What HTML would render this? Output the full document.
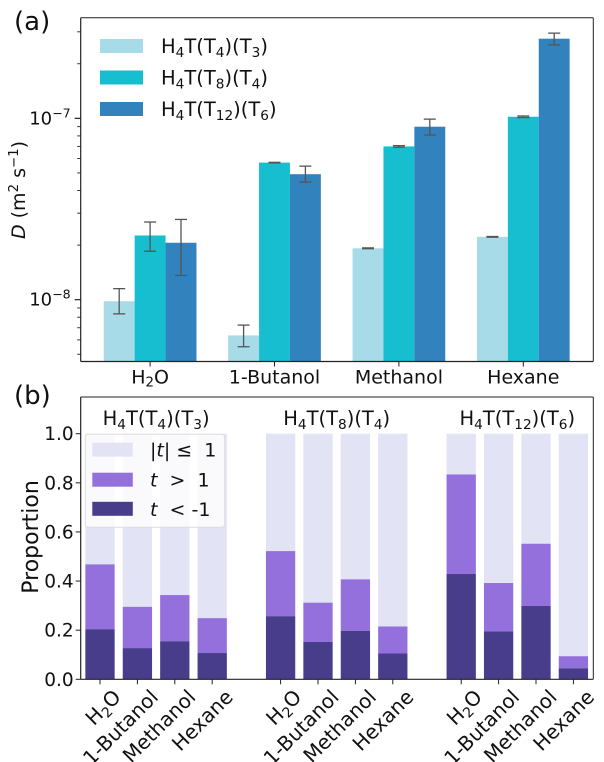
<!DOCTYPE html>
<html><head><meta charset="utf-8"><style>
html,body{margin:0;padding:0;background:#fff;width:604px;height:762px;overflow:hidden}
svg{display:block;font-family:"DejaVu Sans","Liberation Sans",sans-serif}
</style></head><body>
<svg id="fig" width="604" height="762" viewBox="0 0 604 762" overflow="hidden" xmlns="http://www.w3.org/2000/svg"></svg>
<script>
// Panel (a) data
const solvents = ["H2O","1-Butanol","Methanol","Hexane"];
const seriesA = ["T4T3","T8T4","T12T6"];
const dT4T3 = [9.8e-9, 6.35e-9, 1.92e-8, 2.22e-8];
const dT8T4 = [2.26e-8, 5.7e-8, 7.0e-8, 1.02e-7];
const dT12T6 = [2.06e-8, 4.92e-8, 8.99e-8, 2.75e-7];
const errLoT4T3 = [8.35e-9, 5.5e-9, 1.91e-8, 2.21e-8];
const errHiT4T3 = [1.15e-8, 7.24e-9, 1.93e-8, 2.23e-8];
const errLoT8T4 = [1.85e-8, 5.68e-8, 6.93e-8, 1.01e-7];
const errHiT8T4 = [2.68e-8, 5.72e-8, 7.07e-8, 1.03e-7];
const errLoT12T6 = [1.36e-8, 4.45e-8, 8.09e-8, 2.54e-7];
const errHiT12T6 = [2.77e-8, 5.45e-8, 9.9e-8, 2.95e-7];
// Panel (b) data: groups x solvents
const groupsB = ["T4T3","T8T4","T12T6"];
const negProp = [[0.204,0.127,0.155,0.107],[0.257,0.152,0.197,0.105],[0.429,0.195,0.299,0.045]];
const posProp = [[0.264,0.168,0.188,0.142],[0.265,0.160,0.210,0.110],[0.405,0.197,0.253,0.049]];
const yTicksB = [0.0,0.2,0.4,0.6,0.8,1.0];

const NS="http://www.w3.org/2000/svg";
const svg=document.getElementById('fig');
function el(tag,attrs,parent){const e=document.createElementNS(NS,tag);for(const k in attrs)e.setAttribute(k,attrs[k]);(parent||svg).appendChild(e);return e;}
function richText(parent,x,y,parts,size,anchor,extra){
  const t=el('text',Object.assign({x:x,y:y,'font-size':size,'text-anchor':anchor||'start',fill:'#111'},extra||{}),parent);
  parts.forEach(p=>{const s=el('tspan',{},t);if(p[1]==='sub'){s.setAttribute('baseline-shift','-25%');s.setAttribute('font-size',size*0.7);}else if(p[1]==='sup'){s.setAttribute('baseline-shift','super');s.setAttribute('font-size',size*0.7);}else if(p[1]==='i'){s.setAttribute('font-style','italic');}s.textContent=p[0];});
  return t;
}
function nameParts(s){
  if(s==='T4T3')return [["H"],["4",'sub'],["T(T"],["4",'sub'],[")(T"],["3",'sub'],[")"]];
  if(s==='T8T4')return [["H"],["4",'sub'],["T(T"],["8",'sub'],[")(T"],["4",'sub'],[")"]];
  return [["H"],["4",'sub'],["T(T"],["12",'sub'],[")(T"],["6",'sub'],[")"]];
}
function solParts(s){return s==='H2O'?[["H"],["2",'sub'],["O"]]:[[s]];}
function frame(g,l,t,r,b){
  el('line',{x1:l,x2:r,y1:t,y2:t,stroke:'#222','stroke-width':1},g);
  el('line',{x1:l,x2:r,y1:b,y2:b,stroke:'#222','stroke-width':1.2},g);
  el('line',{x1:l,x2:l,y1:t,y2:b,stroke:'#222','stroke-width':1.2},g);
  el('line',{x1:r,x2:r,y1:t,y2:b,stroke:'#222','stroke-width':1},g);
}

// ---------- Panel (a) ----------
const aL=80.7,aR=593.3,aT=17.7,aB=361.5;
const logMin=-8.341,logMax=-6.445;
function ya(v){return aB-(Math.log10(v)-logMin)/(logMax-logMin)*(aB-aT);}
const groupX0=150.1,groupStep=124.4,barW=30.9;
const colorsA=['#a6dbe7','#17becf','#3282bd'];
const valsA=[dT4T3,dT8T4,dT12T6],loA=[errLoT4T3,errLoT8T4,errLoT12T6],hiA=[errHiT4T3,errHiT8T4,errHiT12T6];
const gA=el('g',{});
valsA.forEach((arr,si)=>{arr.forEach((v,ci)=>{
  const cx=groupX0+ci*groupStep+(si-1)*barW;
  const r=el('rect',{x:cx-barW/2,y:ya(v),width:barW,height:aB-ya(v),fill:colorsA[si]},gA);
  
  
});});
valsA.forEach((arr,si)=>{arr.forEach((v,ci)=>{
  const cx=groupX0+ci*groupStep+(si-1)*barW;
  const y1=ya(loA[si][ci]),y2=ya(hiA[si][ci]);
  const g=el('g',{stroke:'#555','stroke-width':1.3},gA);
  
  
  el('line',{x1:cx,x2:cx,y1:y1,y2:y2},g);
  el('line',{x1:cx-6,x2:cx+6,y1:y1,y2:y1},g);
  el('line',{x1:cx-6,x2:cx+6,y1:y2,y2:y2},g);
});});
const frA=el('g',{},gA);
frame(frA,aL,aT,aR,aB);
for(let d=-9;d<=-6;d++){for(let m=1;m<10;m++){const v=m*Math.pow(10,d);const lv=Math.log10(v);if(lv<logMin||lv>logMax)continue;const y=ya(v);
  el('line',{x1:aL,x2:aL-(m===1?6:3.5),y1:y,y2:y,stroke:'#222','stroke-width':m===1?1.2:0.9},gA);
  if(m===1){const t=richText(gA,aL-10,y+6,[["10"],["−"+(-d),'sup']],18,'end');}
}}
solvents.forEach((s,ci)=>{const x=groupX0+ci*groupStep;el('line',{x1:x,x2:x,y1:aB,y2:aB+5,stroke:'#222'},gA);
  const t=richText(gA,x,aB+22,solParts(s),19,'middle');});
const ylA=richText(gA,0,0,[["D",'i'],[" (m"],["2",'sup'],[" s"],["−1",'sup'],[")"]],19,'middle',{transform:'translate(25,190) rotate(-90)'});

const legA=el('g',{},gA);
seriesA.forEach((s,si)=>{const y=[46,77.5,109][si];
  const e=el('g',{},legA);
  el('rect',{x:100,y:y-7,width:43,height:14,fill:colorsA[si]},e);
  richText(e,161,y+7,nameParts(s),19.5,'start');});
const pa=el('text',{x:14,y:30,'font-size':26,fill:'#111'});pa.textContent='(a)';


// ---------- Panel (b) ----------
const bL=80.7,bR=593.3,bT=397,bB=679.3;
function yb(v){return bB-v*(bB-433.7);}
const bX0=100,bStep=37.4,bGroup=180.6,bW=29.3;
const gB=el('g',{});
const cLight='#e3e3f6',cMid='#9370db',cDark='#483d8b';
groupsB.forEach((g,gi)=>{solvents.forEach((s,ci)=>{
  const cx=bX0+gi*bGroup+ci*bStep;const n=negProp[gi][ci],p=posProp[gi][ci];
  const rl=el('rect',{x:cx-bW/2,y:yb(1),width:bW,height:yb(n+p)-yb(1),fill:cLight},gB);
  
  const rp=el('rect',{x:cx-bW/2,y:yb(n+p),width:bW,height:yb(n)-yb(n+p),fill:cMid},gB);
  
  const rn=el('rect',{x:cx-bW/2,y:yb(n),width:bW,height:yb(0)-yb(n),fill:cDark},gB);
  
  el('line',{x1:cx,x2:cx,y1:bB,y2:bB+5,stroke:'#222'},gB);
  const t=richText(gB,0,0,solParts(s),20,'end',{transform:`translate(${cx+22},${bB+19}) rotate(-45)`});
  
});
  const tt=richText(gB,bX0+gi*bGroup+1.5*bStep,425,nameParts(g),19.5,'middle');
  
});
const frB=el('g',{},gB);
frame(frB,bL,bT,bR,bB);
yTicksB.forEach(v=>{const y=yb(v);el('line',{x1:bL,x2:bL-5,y1:y,y2:y,stroke:'#222'},gB);
  const t=el('text',{x:bL-7,y:y+6.5,'font-size':18.5,'text-anchor':'end',fill:'#111'},gB);t.textContent=v.toFixed(1);
  });
const ylB=el('text',{transform:'translate(38,537) rotate(-90)','font-size':22,'text-anchor':'middle',fill:'#111'},gB);ylB.textContent='Proportion';

const legB=el('g',{},gB);
el('rect',{x:85.3,y:434.2,width:139.3,height:93,fill:'#fff','fill-opacity':0.8,stroke:'#ddd',rx:3},legB);
const legItems=[[cLight,[["|"],["t",'i'],["| ≤  1"]]],[cMid,[["t",'i'],["  >  1"]]],[cDark,[["t",'i'],["  < -1"]]]];
const legNames=['neutral','positive','negative'];
legItems.forEach((it,i)=>{const y=[449.6,479.7,508.8][i];
  const e=el('g',{},legB);
  el('rect',{x:92.3,y:y-7,width:40.5,height:14,fill:it[0]},e);
  const t=richText(e,150,y+7,it[1],19,'start');t.style.whiteSpace='pre';});
const pb=el('text',{x:14,y:404,'font-size':26,fill:'#111'});pb.textContent='(b)';

</script>
</body></html>
